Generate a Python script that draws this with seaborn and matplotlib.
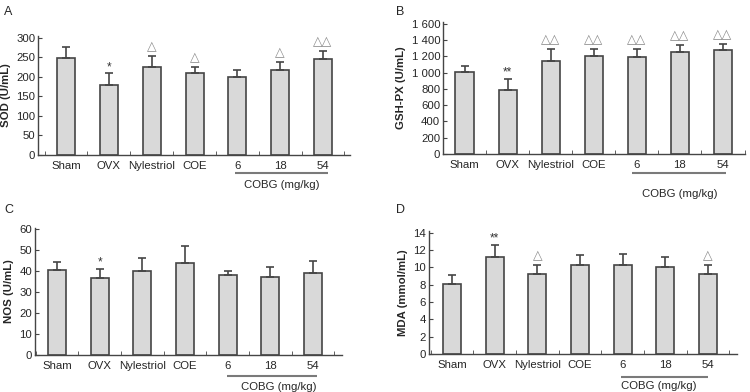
import numpy as np
import pandas as pd
import seaborn as sns
import matplotlib
matplotlib.use("Agg")
import matplotlib.pyplot as plt
import matplotlib.transforms as mtransforms
from matplotlib.ticker import FuncFormatter

# %% data

groups = ["Sham", "OVX", "Nylestriol", "COE", "6", "18", "54"]

sod = [248, 180, 225, 209, 199, 219, 245]
sod_err = [29, 29, 29, 16, 19, 19, 22]
sod_mark = ["", "*", "△", "△", "", "△", "△△"]

gsh = [1005, 790, 1145, 1200, 1185, 1250, 1280]
gsh_err = [70, 135, 145, 90, 105, 90, 75]
gsh_mark = ["", "**", "△△", "△△", "△△", "△△", "△△"]

nos = [40.5, 36.8, 40.0, 44.0, 38.0, 37.0, 39.0]
nos_err = [4.0, 4.2, 6.0, 8.0, 2.0, 5.0, 6.0]
nos_mark = ["", "*", "", "", "", "", ""]

mda = [8.1, 11.2, 9.2, 10.3, 10.3, 10.0, 9.2]
mda_err = [1.0, 1.4, 1.1, 1.1, 1.3, 1.2, 1.1]
mda_mark = ["", "**", "△", "", "", "", "△"]

# %% style

sns.set_style("ticks")
plt.rcParams['font.family'] = ['Liberation Sans', 'DejaVu Sans']
plt.rcParams['font.size'] = 8

EDGE = "#454545"
FILL = "#d9d9d9"
FS = 8.2

fig = plt.figure(figsize=(7.5, 3.92), dpi=100)
W, H = 750., 392.


def add_ax(left, right, top, bottom):
    return fig.add_axes([left / W, 1 - bottom / H, (right - left) / W, (bottom - top) / H])


def panel(ax, vals, errs, marks, ylabel, ylim, yticks, xlim, line, lab, fmt=None):
    df = pd.DataFrame({"group": groups, "val": vals})
    sns.barplot(data=df, x="group", y="val", ax=ax, color=FILL, width=0.42,
                edgecolor=EDGE, linewidth=1.2, saturation=1)
    x = np.arange(len(groups))
    ax.errorbar(x, vals, yerr=[np.zeros(len(errs)), errs], fmt="none",
                ecolor=EDGE, elinewidth=1.2, capsize=3, capthick=1.2)
    for xi, v, e, m in zip(x, vals, errs, marks):
        if m:
            if "*" in m:
                ax.annotate(m, (xi, v + e), xytext=(0, 0), textcoords="offset points",
                            ha="center", va="bottom", fontsize=8.5, color="#333333")
            else:
                ax.annotate(m, (xi, v + e), xytext=(0, 2), textcoords="offset points",
                            ha="center", va="bottom", fontsize=9, color="#8a8a8a")
    ax.set_xlim(*xlim)
    ax.set_ylim(*ylim)
    ax.set_yticks(yticks)
    if fmt:
        ax.yaxis.set_major_formatter(FuncFormatter(fmt))
    ax.set_xticks(x)
    ax.set_xticklabels(groups)
    ax.set_xticks(np.append(x - 0.5, 6.5), minor=True)
    ax.tick_params(axis="x", which="major", length=0, pad=4, labelsize=FS)
    ax.tick_params(axis="x", which="minor", length=3, direction="in", color=EDGE)
    ax.tick_params(axis="y", length=3, direction="in", color=EDGE, pad=2, labelsize=FS)
    ax.set_xlabel("")
    ax.set_ylabel(ylabel, fontweight="bold", fontsize=FS, labelpad=4)
    sns.despine(ax=ax)
    for s in ("left", "bottom"):
        ax.spines[s].set_color(EDGE)
        ax.spines[s].set_linewidth(1.0)
    # COBG bracket line under the dose groups
    x0, x1, dy_line, xt, dy_lab = line
    tr = ax.get_xaxis_transform() + mtransforms.ScaledTranslation(0, -dy_line / 100., fig.dpi_scale_trans)
    ax.plot([x0, x1], [0, 0], transform=tr, color="#7a7a7a", lw=1.5, clip_on=False,
            solid_capstyle="butt")
    tr2 = ax.get_xaxis_transform() + mtransforms.ScaledTranslation(0, -dy_lab / 100., fig.dpi_scale_trans)
    ax.text(xt, 0, "COBG (mg/kg)", transform=tr2, ha="center", va="center", fontsize=FS)
    fig.text(lab[0] / W, 1 - lab[1] / H, lab[2], fontsize=9, ha="left", va="center")


def thousands(v, pos):
    return "{:,}".format(int(v)).replace(",", " ")


axA = add_ax(38, 350, 36, 155)
panel(axA, sod, sod_err, sod_mark, "SOD (U/mL)", (0, 305), range(0, 301, 50),
      (-0.654, 6.63), (3.95, 6.12, 18, 5.04, 30), (4, 12, "A"))

axB = add_ax(443, 745, 22, 154)
panel(axB, gsh, gsh_err, gsh_mark, "GSH-PX (U/mL)", (0, 1620), range(0, 1601, 200),
      (-0.486, 6.51), (3.89, 6.07, 19, 5.0, 40), (396, 12, "B"), fmt=thousands)

axC = add_ax(35, 342, 228, 355)
panel(axC, nos, nos_err, nos_mark, "NOS (U/mL)", (0, 60.5), range(0, 61, 10),
      (-0.516, 6.68), (3.98, 6.09, 21, 5.2, 32), (4, 210, "C"))

axD = add_ax(429, 737, 231, 354)
panel(axD, mda, mda_err, mda_mark, "MDA (mmol/mL)", (0, 14.2), range(0, 15, 2),
      (-0.54, 6.68), (3.96, 6.0, 23, 4.85, 32), (396, 210, "D"))

fig.savefig("out.png", dpi=100)
plt.close(fig)
